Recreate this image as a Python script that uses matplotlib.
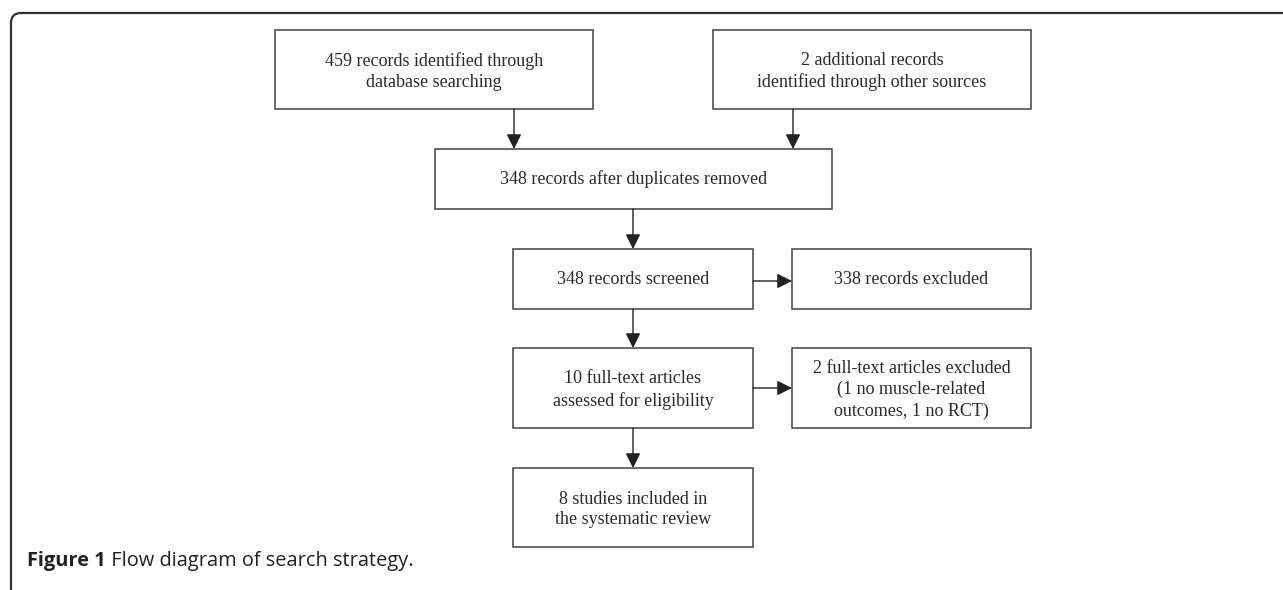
import matplotlib
matplotlib.use("Agg")
import matplotlib.pyplot as plt
from matplotlib.patches import Rectangle, FancyArrowPatch, PathPatch
from matplotlib.path import Path

# box labels of the flow diagram
box_labels = [
    "459 records identified through\ndatabase searching",
    "2 additional records\nidentified through other sources",
    "348 records after duplicates removed",
    "348 records screened",
    "338 records excluded",
    "10 full-text articles\nassessed for eligibility",
    "2 full-text articles excluded\n(1 no muscle-related\noutcomes, 1 no RCT)",
    "8 studies included in\nthe systematic review",
]
caption_bold = "Figure 1"
caption_text = " Flow diagram of search strategy."

# layout in pixels: x0, y0, x1, y1
boxes = [
    (275, 30, 593, 109),
    (713, 30, 1031, 109),
    (435, 149, 832, 209),
    (513, 249, 753, 309),
    (792, 249, 1031, 309),
    (513, 348, 753, 428),
    (792, 348, 1031, 428),
    (513, 468, 753, 547),
]
# arrows (x0, y0, x1, y1)
arrows = [
    (514, 109, 514, 149),
    (793, 109, 793, 149),
    (633, 209, 633, 249),
    (753, 281, 792, 281),
    (633, 309, 633, 348),
    (753, 388, 792, 388),
    (633, 428, 633, 468),
]

fig = plt.figure(figsize=(12.83, 5.90), dpi=100)
ax = fig.add_axes([0, 0, 1, 1])
ax.set_xlim(0, 1283)
ax.set_ylim(590, 0)
ax.axis("off")

# rounded frame (only top-left corner visible)
r = 10
verts = [(11, 600), (11, 13 + r), (11, 13), (11 + r, 13), (1300, 13)]
codes = [Path.MOVETO, Path.LINETO, Path.CURVE3, Path.CURVE3, Path.LINETO]
ax.add_patch(PathPatch(Path(verts, codes), fill=False, edgecolor="#333333", lw=1.6))

for (x0, y0, x1, y1), lab in zip(boxes, box_labels):
    ax.add_patch(Rectangle((x0, y0), x1 - x0, y1 - y0, fill=False,
                           edgecolor="#505050", lw=1.2))
    dy = 2 if "\n" in lab else 0
    ax.text((x0 + x1) / 2, (y0 + y1) / 2 + dy, lab, ha="center", va="center",
            family="Liberation Serif", fontsize=13, color="#2a2a2a",
            linespacing=1.3)

for x0, y0, x1, y1 in arrows:
    ax.add_patch(FancyArrowPatch((x0, y0), (x1, y1),
                                 arrowstyle="-|>,head_length=0.9,head_width=0.45",
                                 mutation_scale=10, color="#222222", lw=1.0,
                                 shrinkA=0, shrinkB=0))

t = ax.text(27, 566, caption_bold, ha="left", va="baseline", family="Open Sans",
            fontweight="bold", fontsize=14.4, color="#222222")
fig.canvas.draw()
bb = t.get_window_extent()
x_end = ax.transData.inverted().transform((bb.x1, bb.y0))[0]
ax.text(x_end, 566, caption_text, ha="left", va="baseline", family="Open Sans",
        fontsize=14.4, color="#222222")

fig.savefig("out.png", dpi=100)
